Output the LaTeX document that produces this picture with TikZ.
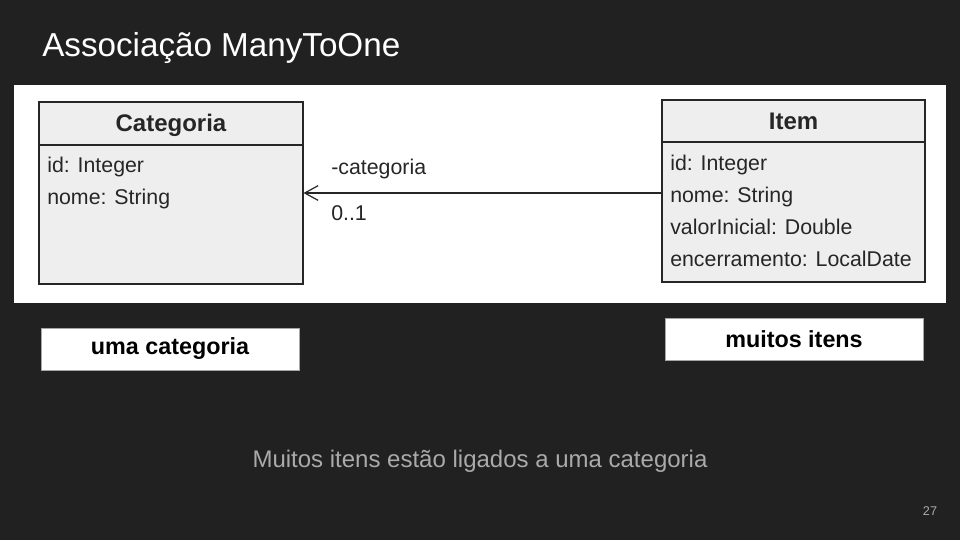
\documentclass[tikz,border=0pt]{standalone}
\usepackage{fontspec}
\setmainfont{Liberation Sans}
\usetikzlibrary{arrows.meta}
\definecolor{bg}{HTML}{212121}
\definecolor{boxfill}{HTML}{EEEEEE}
\definecolor{boxline}{HTML}{262626}
\definecolor{captiongray}{HTML}{AAAAAA}
\begin{document}
\begin{tikzpicture}[x=0.75pt,y=-0.75pt,
  umlbox/.style={draw=boxline,fill=boxfill,line width=1.1pt,inner sep=0pt,minimum width=#1*0.75pt,minimum height=136.5pt},
  header/.style={font=\fontsize{18}{20}\selectfont\bfseries,text=black!85,inner sep=0pt,anchor=base},
  attr/.style={font=\fontsize{16}{18}\selectfont,text=black!85,anchor=base west,inner sep=0pt},
  assoc/.style={font=\fontsize{16}{18}\selectfont,text=black!85,anchor=base west,inner sep=0pt},
  tag/.style={draw=gray!70,fill=white,line width=0.5pt,minimum width=193.5pt,minimum height=31.5pt,inner sep=0pt,font=\fontsize{17.5}{20}\selectfont\bfseries,text=black},
  link/.style={draw=boxline,line width=0.9pt,-{Straight Barb[length=10pt,width=11pt,line width=0.9pt]}}
]
\useasboundingbox (0,0) rectangle (960,540);
\fill[bg] (0,0) rectangle (960,540);
% title
\node[anchor=base west,inner sep=0pt,text=white,font=\fontsize{24.9}{28}\selectfont] (title) at (42,56) {Associação ManyToOne};
% white panel
\fill[white] (14,85) rectangle (946,303);
% Categoria class
\node[umlbox=264] (cat) at (171,193) {};
\draw[boxline,line width=1.1pt] (39,145) -- (303,145);
\node[header] (cath) at (171,131) {Categoria};
\node[attr] (cat1) at (47,172) {id: Integer};
\node[attr] (cat2) at (47,204) {nome: String};
% Item class
\node[umlbox=263] (item) at (793.5,191) {};
\draw[boxline,line width=1.1pt] (662,142) -- (925,142);
\node[header] (itemh) at (793.5,129) {Item};
\node[attr] (it1) at (670,170) {id: Integer};
\node[attr] (it2) at (670,202) {nome: String};
\node[attr] (it3) at (670,234) {valorInicial: Double};
\node[attr] (it4) at (670,266) {encerramento: LocalDate};
% association
\coordinate (lineend) at (303.5,193);
\draw[link] (662,193) -- (lineend);
\node[assoc] (role) at (331,174) {-categoria};
\node[assoc] (mult) at (331,220) {0..1};
% tags
\node[tag] (tagcat) at (170,349) {uma categoria};
\node[tag] (tagitem) at (794,339) {muitos itens};
% caption
\node[text=captiongray,font=\fontsize{18}{21}\selectfont,inner sep=0pt] (caption) at (480,461) {Muitos itens estão ligados a uma categoria};
\node[text=captiongray,font=\fontsize{9.5}{11}\selectfont,inner sep=0pt] (page) at (930,511) {27};
\end{tikzpicture}
\end{document}
